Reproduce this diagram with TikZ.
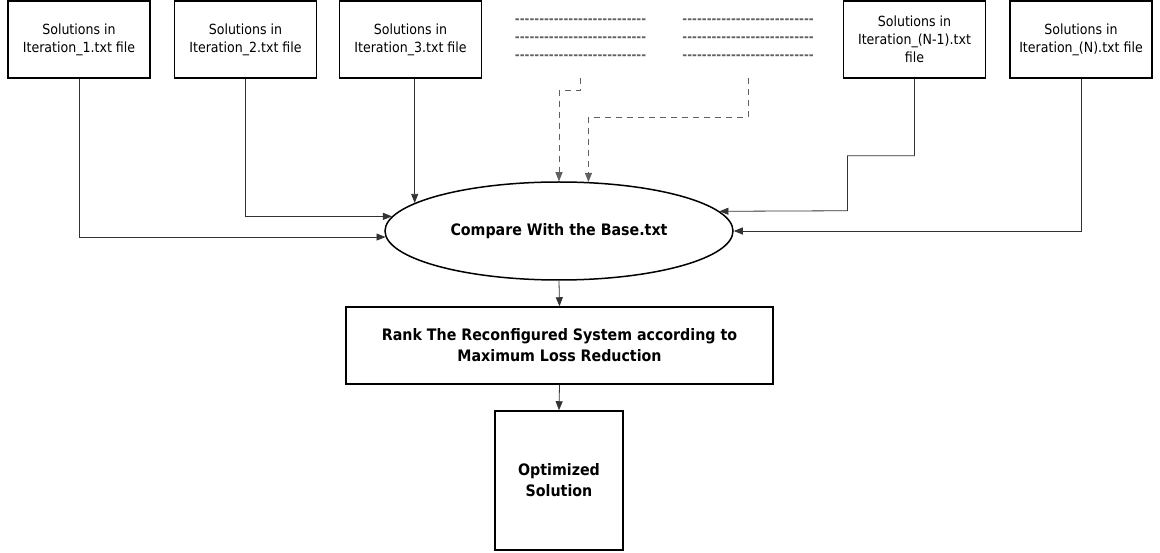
\documentclass[tikz,border=0pt]{standalone}
\usepackage{fontspec}
\setmainfont{DejaVu Sans Condensed}
\usetikzlibrary{arrows.meta,shapes.geometric}
\definecolor{linegray}{HTML}{333333}
\definecolor{dashgray}{HTML}{606060}
% a row of plain hyphens, kerned apart so they are not joined into dashes
\newcommand\hyphenrow{\foreach \k in {1,...,27}{-\kern0pt}}
\begin{document}
\begin{tikzpicture}[x=1pt,y=-1pt,
  filebox/.style={draw, line width=1.5pt, align=center, inner sep=0pt,
    minimum width=142, minimum height=77,
    font=\fontsize{14}{18}\selectfont},
  stepbox/.style={draw, line width=1.5pt, align=center, inner sep=0pt,
    font=\bfseries\fontsize{15.8}{21}\selectfont},
  hyphens/.style={align=center, inner sep=0pt, minimum height=77,
    text=dashgray, font=\bfseries\fontsize{13}{18}\selectfont},
  conn/.style={draw=linegray, line width=0.8pt, -{Triangle[length=9,width=7]}},
  dconn/.style={draw=dashgray, line width=0.8pt, dash pattern=on 6pt off 5pt,
    -{Triangle[length=9,width=7]}}]
\useasboundingbox (0,0) rectangle (1160,553);

% input files
\node[filebox] (b1) at (79,39.5) {Solutions in\\Iteration\_1.txt file};
\node[filebox] (b2) at (245.5,39.5) {Solutions in\\Iteration\_2.txt file};
\node[filebox] (b3) at (410.5,39.5) {Solutions in\\Iteration\_3.txt file};
\node[hyphens] (d1) at (580.5,39.5) {\hyphenrow\\\hyphenrow\\\hyphenrow};
\node[hyphens] (d2) at (748,39.5) {\hyphenrow\\\hyphenrow\\\hyphenrow};
\node[filebox] (bn1) at (914.5,39.5) {Solutions in\\Iteration\_(N-1).txt\\file};
\node[filebox] (bn) at (1081,39.5) {Solutions in\\Iteration\_(N).txt file};

% processing steps
\node[draw, ellipse, line width=1.5pt, inner sep=0pt, minimum width=348, minimum height=98,
  font=\bfseries\fontsize{15.8}{19}\selectfont] (ell) at (559,231) {Compare With the Base.txt};
\node[stepbox, minimum width=427, minimum height=77] (rank) at (559.5,345.5)
  {Rank The Reconfigured System according to\\Maximum Loss Reduction};
\node[stepbox, minimum width=128, minimum height=139] (opt) at (559,480.5)
  {Optimized\\Solution};

% connectors into the comparison
\draw[conn] (b1.south) |- (ell.182.3);
\draw[conn] (b2.south) |- (ell.175.6);
\draw[conn] (ell.169.4 |- b3.south) -- (ell.169.4);
\draw[dconn] (d1.south) -- ++(0,12) -| (ell.north);
\draw[dconn] (d2.south) -- ++(0,39) -| (ell.59);
\draw[conn] (bn1.south) -- ++(0,77) -| ++(-67,55) -- (ell.7.6);
\draw[conn] (bn.south) |- (ell.east);

% downstream steps
\draw[conn] (ell.south) -- (rank.north);
\draw[conn] (rank.south) -- (opt.north);
\end{tikzpicture}
\end{document}
